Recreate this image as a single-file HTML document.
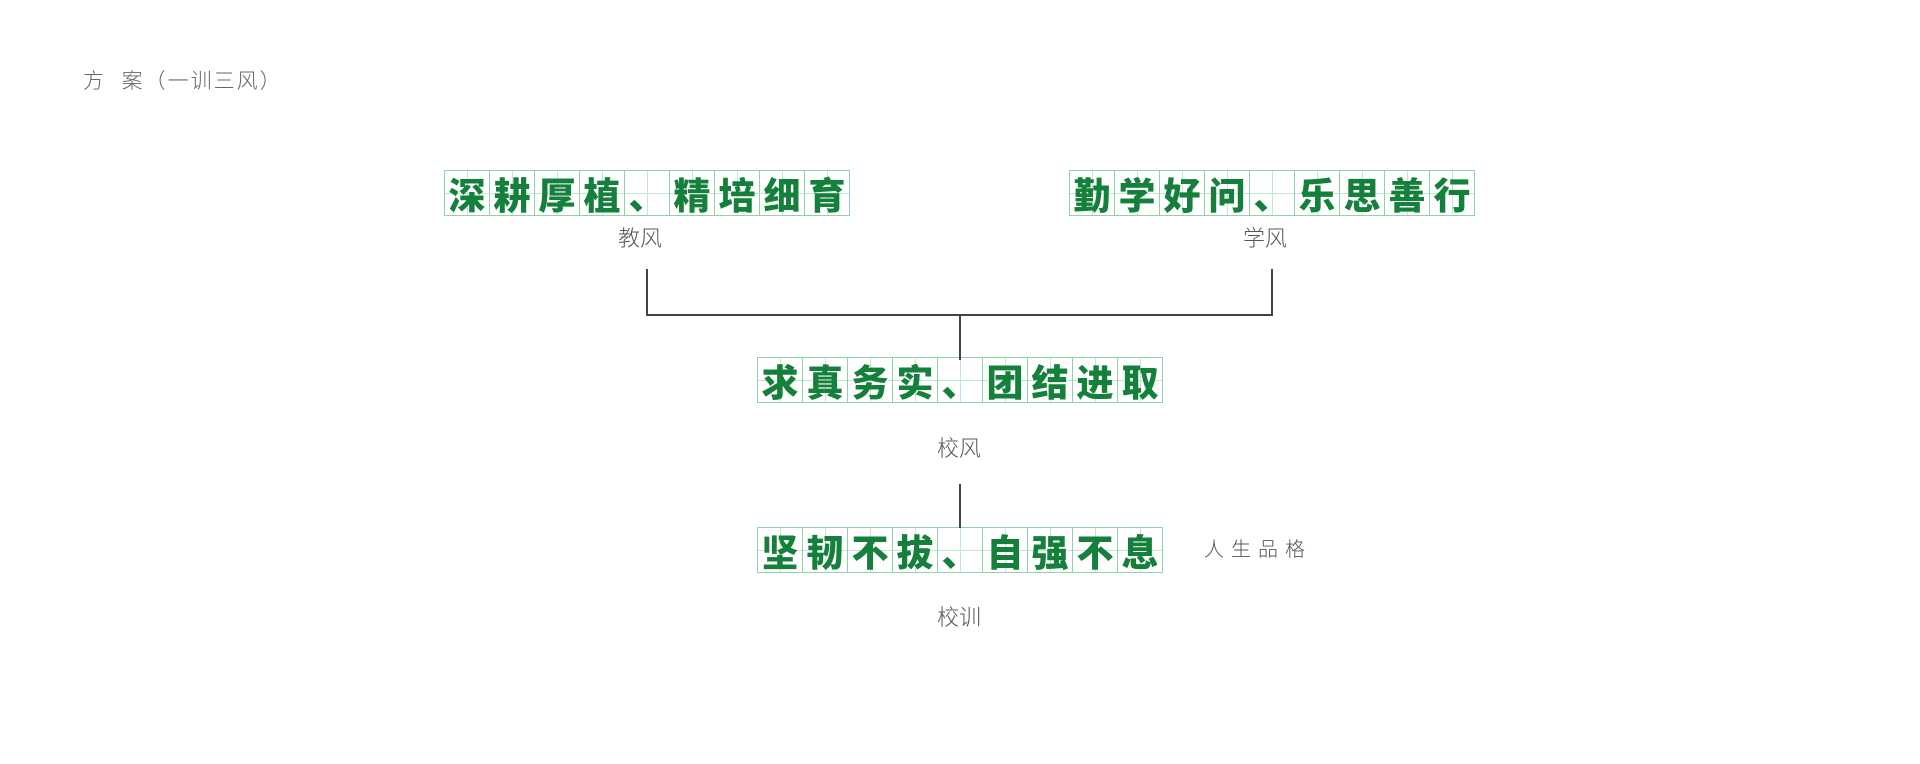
<!DOCTYPE html>
<html><head><meta charset="utf-8"><style>
body{margin:0;width:1920px;height:764px;background:#fff;position:relative;overflow:hidden;font-family:"Liberation Sans","Noto Sans CJK SC",sans-serif}
.t{position:absolute;color:#555;font-size:22px;line-height:1;white-space:nowrap;font-weight:300}
.box{position:absolute;display:flex;border-left:1px solid #8fd3a8}
.box span{width:44px;height:44px;border:1px solid #8fd3a8;border-left:none;display:flex;align-items:center;justify-content:center;color:#14803c;font-family:"Noto Sans CJK SC",sans-serif;font-weight:900;font-size:37px;line-height:1;
background:linear-gradient(#c3e8d0,#c3e8d0) center/1px 100% no-repeat,linear-gradient(#c3e8d0,#c3e8d0) center/100% 1px no-repeat}
.l{position:absolute;background:#444}
</style></head><body>
<div class="t" style="left:83px;top:71px;font-size:21px;color:#666;letter-spacing:2px">方&nbsp;&nbsp;案（一训三风）</div>

<div class="box" style="left:444px;top:170px"><span>深</span><span>耕</span><span>厚</span><span>植</span><span>、</span><span>精</span><span>培</span><span>细</span><span>育</span></div>
<div class="box" style="left:1069px;top:170px"><span>勤</span><span>学</span><span>好</span><span>问</span><span>、</span><span>乐</span><span>思</span><span>善</span><span>行</span></div>
<div class="box" style="left:757px;top:357px"><span>求</span><span>真</span><span>务</span><span>实</span><span>、</span><span>团</span><span>结</span><span>进</span><span>取</span></div>
<div class="box" style="left:757px;top:527px"><span>坚</span><span>韧</span><span>不</span><span>拔</span><span>、</span><span>自</span><span>强</span><span>不</span><span>息</span></div>

<div class="t" style="left:618px;top:228px">教风</div>
<div class="t" style="left:1243px;top:228px">学风</div>
<div class="t" style="left:937px;top:438px">校风</div>
<div class="t" style="left:937px;top:607px">校训</div>
<div class="t" style="left:1204px;top:540px;font-size:20px;letter-spacing:7px">人生品格</div>

<div class="l" style="left:646px;top:269px;width:2px;height:47px"></div>
<div class="l" style="left:1271px;top:269px;width:2px;height:47px"></div>
<div class="l" style="left:646px;top:314px;width:627px;height:2px"></div>
<div class="l" style="left:959px;top:314px;width:2px;height:46px"></div>
<div class="l" style="left:959px;top:484px;width:2px;height:44px"></div>
</body></html>
